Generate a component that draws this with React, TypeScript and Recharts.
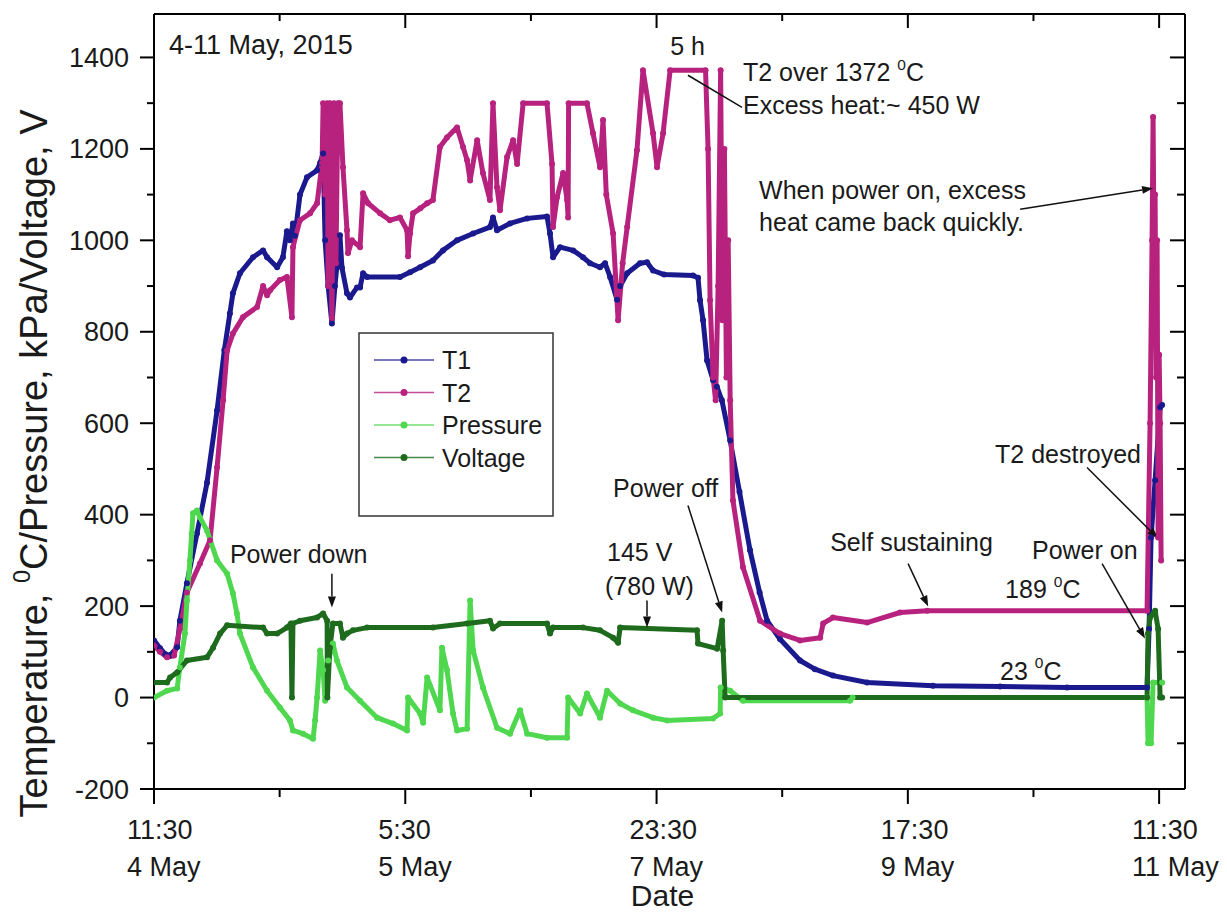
import React from 'react';
import { ComposedChart, Line, XAxis, YAxis, ReferenceDot, ReferenceLine, Legend } from 'recharts';

const FONT = '"Liberation Sans", Arial, Helvetica, sans-serif';

// x unit: 100 units per labelled tick interval
const xTicks = [0, 50, 100, 150, 200, 250, 300, 350, 400];
const xTickTime = ['11:30', '', '5:30', '', '23:30', '', '17:30', '', '11:30'];
const xTickDate = ['4 May', '', '5 May', '', '7 May', '', '9 May', '', '11 May'];
const yTicks = [-200, -100, 0, 100, 200, 300, 400, 500, 600, 700, 800, 900, 1000, 1100, 1200, 1300, 1400];

const t1X = [0,2.4,4.4,6.4,9.2,10.3,13.1,17.1,21.1,25.1,28,30.2,31.4,34.2,39.4,43.4,45,49,51.3,52.9,54.1,55.3,56.1,58.1,60.9,64.9,66.1,67.3,68.1,69.3,70.8,72,74,74.8,76.8,78,80.8,82,83.2,84.8,97.9,101.9,105.9,111,115,120.6,127,133.7,134.9,136.5,141.7,148.5,156.4,157.6,158.8,161.6,166.8,170.7,173.5,177.5,179.5,181.5,184.3,185.5,188.3,193.4,196.2,198.6,203,214.5,216.5,217.3,218.5,220.1,222.5,224,226,229.3,233,237.2,241,244,249.1,257.1,263,270.2,283.8,310,336.7,363.4,395.2,396,396.8,398.4,400.4,401.2];
const t1Y = [125,108,95,92,110,168,250,359,470,628,760,840,884,928,963,978,963,941,963,1020,1000,1037,1010,1100,1138,1153,1169,1190,1000,900,818,900,1011,940,884,875,897,897,928,920,920,930,941,956,978,1000,1015,1029,1050,1022,1037,1048,1052,1015,963,985,978,963,950,941,950,920,870,900,928,950,952,934,925,923,918,869,825,737,694,680,650,562,450,322,230,168,128,81,62,48,33,26,24,22,22,150,350,475,635,640];

const t2X = [0,2.4,5.2,8,10.3,13.1,18.3,22.3,25.1,27.5,29.1,31.4,35.4,41,43.4,45,46.2,50.1,52.9,54.9,55.3,58.1,62.1,64.9,66.9,67.3,68.1,68.9,69.3,70,70.8,71.6,72.4,73.2,74,75.2,76.8,77.2,78.8,82,83.2,85.2,90,93.9,97.9,100.7,101.1,101.9,103.1,106,108.7,111,113.8,116.6,120.6,123,124.6,125.8,128.6,130.9,133.7,134.9,136.5,137.7,140.5,142.9,144.5,146.9,156.4,158.4,158.8,160.4,162.8,164.4,164.8,165,172.3,174.7,177.5,178.7,180,182.7,184.7,186.5,188.3,192.2,194.6,198.6,200.2,202.6,205.4,219.5,220.5,221.3,222.5,223.5,224.5,225.5,226.2,227,227.8,228.5,229.3,230.4,234.4,241.2,249.1,257.1,265.1,266.3,270.2,283.8,296.9,307.7,395.2,396.4,397.2,397.6,398,398.4,398.8,399.2,399.6,400,400.4,400.8];
const t2Y = [114,100,88,92,150,230,293,344,503,650,759,796,832,854,900,880,891,913,920,832,985,1044,1059,1081,1169,1300,1100,1300,900,1300,830,1300,950,1300,1300,1160,1022,972,1000,985,1103,1081,1059,1044,1050,1022,965,1015,1059,1070,1081,1088,1204,1225,1247,1204,1175,1131,1219,1147,1088,1300,1116,1066,1182,1219,1167,1300,1300,1167,1029,1094,1147,1088,1050,1300,1300,1234,1160,1263,1100,1015,825,950,1029,1197,1372,1234,1160,1234,1372,1372,1200,869,700,650,900,1372,825,1200,700,1000,650,431,285,168,140,125,131,162,175,164,186,190,190,600,1000,1270,950,1100,700,1000,350,750,600,300,55];

const pressureX = [0,5.2,9.2,10.3,12.3,13.1,14.3,15,15.5,17.1,18.3,21.1,25.1,29.1,31.4,33,34.2,39.4,45,50.1,54.1,55.3,59.3,63.3,64.1,64.9,66.1,67.3,68.1,69.3,71.2,72.8,76.8,82,88.8,95.1,100.7,101.1,105.9,107.1,108.7,113.8,114.6,116.6,119,120.6,124.6,125.8,127,130.9,136.5,141.7,145.7,148.5,156.4,164.4,164.8,169.6,172.3,177.5,180.3,185.5,190.6,198.6,204.2,222.5,225.3,225.5,229.3,234.4,277,278,395.2,395.6,396.4,396.8,397.6,401.2];
const pressureY = [0,15,20,66,140,212,300,359,403,409,394,365,300,271,228,184,140,66,15,-22,-50,-72,-79,-90,-50,0,103,60,-7,81,118,81,22,-7,-44,-57,-72,0,-35,-55,44,-28,109,60,-35,-72,-68,212,103,22,-66,-79,-28,-79,-88,-88,0,-35,9,-44,15,-13,-28,-44,-50,-46,-35,22,15,-7,-7,0,0,-100,-60,-100,33,33];

const voltageX = [0,5.2,6.4,9.2,13.1,21.1,23.5,26.3,29.1,43.4,45,49,52.9,54.5,54.9,55.3,58.1,64.9,67.3,68.9,69,70,71.2,74,75.2,76.8,79.2,84.8,111,124.6,133.7,134.9,137.7,156.4,157.6,158.8,170.7,177.5,182.7,184.7,185.5,216.1,216.5,224.1,226.1,226.5,227.3,395.2,395.6,396.4,398.4,399.6,400.4,401.2];
const voltageY = [33,33,44,55,81,88,109,140,158,153,140,140,153,162,0,162,168,175,184,168,0,109,162,162,131,140,147,153,153,162,168,151,162,162,140,153,153,147,131,120,153,147,118,107,168,103,0,0,140,175,190,150,0,0];

const noteText = ['4-11 May, 2015', '5 h', 'T2 over 1372 ^0C', 'Excess heat:~ 450 W', 'When power on, excess', 'heat came back quickly.', 'Power down', '145 V', '(780 W)', 'Power off', 'Self sustaining', '189 ^0C', 'T2 destroyed', 'Power on', '23 ^0C'];
const noteX = [6.0, 205.4, 234.4, 234.4, 240.8, 240.8, 30.2, 180.3, 179.5, 182.7, 269.1, 338.7, 334.7, 349.4, 336.7];
const noteY = [1407, 1405, 1348, 1276, 1090, 1020, 295, 298, 225, 438, 320, 217, 514, 304, 39];

const arrowX1 = [212.5, 344.7, 70.8, 196.2, 212.5, 300.1, 371.3, 377.3];
const arrowY1 = [1361, 1068, 271, 212, 420, 293, 503, 293];
const arrowX2 = [234.0, 397.6, 70.8, 196.2, 226.1, 308.1, 399.6, 394.4];
const arrowY2 = [1291, 1114, 197, 153, 186, 199, 348, 129];
const arrowHead = [false, true, true, true, true, true, true, true];

const seriesNames = ['T1', 'T2', 'Pressure', 'Voltage'];
const seriesColors = ['#1a1a8e', '#b8227f', '#4fd84f', '#1e6b1e'];

const rows = (xs: number[], ys: number[]) => xs.map((x, i) => ({ x, y: ys[i] }));
const seriesData = [rows(t1X, t1Y), rows(t2X, t2Y), rows(pressureX, pressureY), rows(voltageX, voltageY)];

const rich = (s: string, fs: number) => {
  const parts = s.split('^0');
  if (parts.length === 1) return s;
  return [
    <tspan key="a">{parts[0]}</tspan>,
    <tspan key="b" fontSize={fs * 0.62} dy={-fs * 0.45}>0</tspan>,
    <tspan key="c" dy={fs * 0.45}>{parts[1]}</tspan>,
  ];
};

const BottomTick = (p: any) => {
  const { x, y, payload } = p;
  const v = payload.value;
  const i = xTicks.indexOf(v);
  const major = v % 100 === 0;
  return (
    <g>
      <line x1={x} x2={x} y1={y} y2={y + (major ? 15 : 8)} stroke="#000" strokeWidth={2} />
      {major && (
        <text x={x - 27} y={y + 50} fontSize={27} fontFamily={FONT} fill="#1a1a1a">{xTickTime[i]}</text>
      )}
      {major && (
        <text x={x - 27} y={y + 87} fontSize={27} fontFamily={FONT} fill="#1a1a1a">{xTickDate[i]}</text>
      )}
    </g>
  );
};

const TopTick = (p: any) => {
  const { x, y, payload } = p;
  const major = payload.value % 100 === 0;
  return <line x1={x} x2={x} y1={y} y2={y + (major ? 14 : 7)} stroke="#000" strokeWidth={2} />;
};

const LeftTick = (p: any) => {
  const { x, y, payload } = p;
  const v = payload.value;
  const major = v % 200 === 0;
  return (
    <g>
      <line x1={x} x2={x - (major ? 14 : 7)} y1={y} y2={y} stroke="#000" strokeWidth={2} />
      {major && (
        <text x={x - 25} y={y + 9.5} textAnchor="end" fontSize={27} fontFamily={FONT} fill="#1a1a1a">{v}</text>
      )}
    </g>
  );
};

const RightTick = (p: any) => {
  const { x, y, payload } = p;
  const major = payload.value % 200 === 0;
  return <line x1={x} x2={x - (major ? 15 : 8)} y1={y} y2={y} stroke="#000" strokeWidth={2} />;
};

const YLabel = (props: any) => {
  const vb = props.viewBox || { x: 0, y: 14, width: 154, height: 775 };
  const cx = vb.x + 47;
  const cy = vb.y + vb.height / 2 + 62;
  return (
    <text x={cx} y={cy} transform={`rotate(-90, ${cx}, ${cy})`} textAnchor="middle" fontSize={38} fontFamily={FONT} fill="#1a1a1a">
      {rich('Temperature, ^0C/Pressure, kPa/Voltage, V', 38)}
    </text>
  );
};

const XLabel = (props: any) => {
  const vb = props.viewBox || { x: 154, y: 789, width: 1031, height: 125 };
  return (
    <text x={vb.x + vb.width / 2 - 7} y={vb.y + 117} textAnchor="middle" fontSize={30} fontFamily={FONT} fill="#1a1a1a">Date</text>
  );
};

const arrowShape = (head: boolean) => (p: any) => {
  const { x1, y1, x2, y2 } = p;
  const a = Math.atan2(y2 - y1, x2 - x1);
  const L = 11;
  const W = 4;
  const bx = x2 - L * Math.cos(a);
  const by = y2 - L * Math.sin(a);
  const pts = `${x2},${y2} ${bx - W * Math.sin(a)},${by + W * Math.cos(a)} ${bx + W * Math.sin(a)},${by - W * Math.cos(a)}`;
  return (
    <g>
      <line x1={x1} y1={y1} x2={head ? bx : x2} y2={head ? by : y2} stroke="#111" strokeWidth={1.5} />
      {head && <polygon points={pts} fill="#111" />}
    </g>
  );
};

const noteShape = (text: string, fs: number) => (p: any) => (
  <text x={p.cx} y={p.cy} fontSize={fs} fontFamily={FONT} fill="#1a1a1a">{rich(text, fs)}</text>
);

const LegendBox = (props: any) => {
  const payload = (props && props.payload) || [];
  const items = seriesNames.map((n, i) => {
    const found = payload.find((e: any) => e.value === n);
    return { name: n, color: found ? found.color : seriesColors[i] };
  });
  return (
    <svg width={197} height={186} style={{ display: 'block' }}>
      <rect x={1} y={1} width={194} height={183} fill="#fff" stroke="#333" strokeWidth={1.5} />
      {items.map((it, i) => {
        const yy = 28 + i * 32.5;
        return (
          <g key={it.name}>
            <line x1={16} x2={76} y1={yy} y2={yy} stroke={it.color} strokeWidth={1.5} opacity={0.8} />
            <circle cx={46} cy={yy} r={3.5} fill={it.color} />
            <text x={84} y={yy + 9} fontSize={25} fontFamily={FONT} fill="#1a1a1a">{it.name}</text>
          </g>
        );
      })}
    </svg>
  );
};

export default function App() {
  return (
    <div style={{ position: 'absolute', left: 0, top: 0, background: '#fff' }}>
      <ComposedChart width={1227} height={914} margin={{ top: 13, right: 41, bottom: 0, left: 0 }}>
        <XAxis
          xAxisId="b" type="number" dataKey="x" domain={[0, 410.3]} allowDataOverflow ticks={xTicks} interval={0}
          orientation="bottom" height={125} tickSize={0} tickMargin={0} tickLine={false}
          tick={<BottomTick />} axisLine={{ stroke: '#000', strokeWidth: 2 }} label={<XLabel />}
        />
        <XAxis
          xAxisId="t" type="number" dataKey="x" domain={[0, 410.3]} allowDataOverflow ticks={xTicks} interval={0}
          orientation="top" height={1} tickSize={0} tickMargin={0} tickLine={false}
          tick={<TopTick />} axisLine={{ stroke: '#000', strokeWidth: 2 }}
        />
        <YAxis
          yAxisId="l" type="number" domain={[-200, 1495]} allowDataOverflow ticks={yTicks} interval={0}
          orientation="left" width={154} tickSize={0} tickMargin={0} tickLine={false}
          tick={<LeftTick />} axisLine={{ stroke: '#000', strokeWidth: 2 }} label={<YLabel />}
        />
        <YAxis
          yAxisId="r" type="number" domain={[-200, 1495]} allowDataOverflow ticks={yTicks} interval={0}
          orientation="right" width={1} tickSize={0} tickMargin={0} tickLine={false}
          tick={<RightTick />} axisLine={{ stroke: '#000', strokeWidth: 2 }}
        />
        <Line
          xAxisId="t" yAxisId="r" data={seriesData[0]} dataKey="y" stroke="none" dot={false}
          activeDot={false} legendType="none" isAnimationActive={false}
        />
        {seriesNames.map((n, i) => (
          <Line
            key={n} name={n} xAxisId="b" yAxisId="l" data={seriesData[i]} dataKey="y" type="linear"
            stroke={seriesColors[i]} strokeWidth={5} strokeLinejoin="round"
            dot={{ r: 3, fill: seriesColors[i], stroke: seriesColors[i], strokeWidth: 0 }}
            activeDot={false} isAnimationActive={false}
          />
        ))}
        {arrowX1.map((x, i) => (
          <ReferenceLine
            key={'a' + i} xAxisId="b" yAxisId="l" ifOverflow="visible"
            segment={[{ x, y: arrowY1[i] }, { x: arrowX2[i], y: arrowY2[i] }]}
            shape={arrowShape(arrowHead[i])}
          />
        ))}
        {noteText.map((t, i) => (
          <ReferenceDot
            key={'n' + i} xAxisId="b" yAxisId="l" x={noteX[i]} y={noteY[i]} r={0} ifOverflow="visible"
            shape={noteShape(t, i === 0 ? 27 : 25)}
          />
        ))}
        <Legend
          layout="vertical" align="center" verticalAlign="middle"
          wrapperStyle={{ left: 358, top: 332, width: 197, height: 186 }}
          content={<LegendBox />}
        />
      </ComposedChart>
    </div>
  );
}
